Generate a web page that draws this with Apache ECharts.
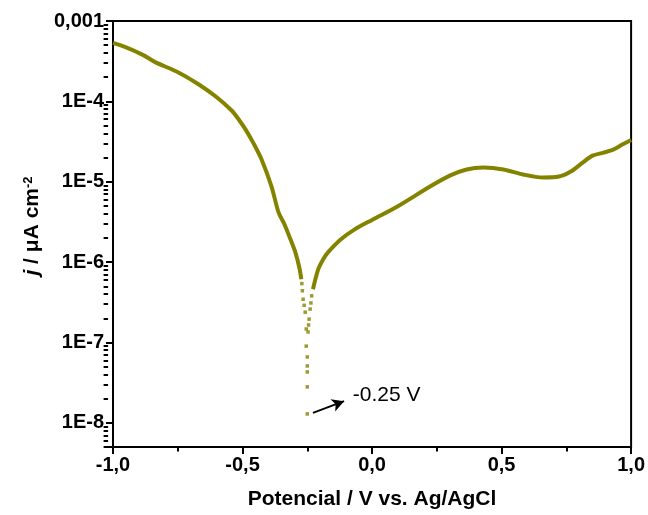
<!DOCTYPE html>
<html>
<head>
<meta charset="utf-8">
<script src="https://cdn.jsdelivr.net/npm/echarts@6/dist/echarts.min.js"></script>
<style>html,body{margin:0;padding:0;background:#fff}#chart{width:648px;height:515px}</style>
</head>
<body>
<div id="chart"></div>
<script>
// Cathodic (left) branch: potential (V vs Ag/AgCl) and current density (A cm-2)
const potentialLeft = [-1.000,-0.954,-0.885,-0.839,-0.744,-0.667,-0.602,-0.541,-0.514,-0.488,-0.457,-0.426,-0.388,-0.361,-0.338,-0.315,-0.296,-0.281,-0.273];
const currentLeft   = [5.33e-4,4.76e-4,3.79e-4,3.10e-4,2.26e-4,1.61e-4,1.14e-4,7.64e-5,5.91e-5,4.45e-5,2.98e-5,1.88e-5,8.71e-6,4.15e-6,2.94e-6,1.92e-6,1.32e-6,8.63e-7,6.12e-7];
// Sparse points around the corrosion potential
const potentialDots = [-0.271,-0.269,-0.266,-0.262,-0.258,-0.254,-0.254,-0.250,-0.250,-0.250,-0.250,-0.250,-0.247,-0.245,-0.243,-0.239,-0.236,-0.233];
const currentDots   = [5.4e-7,4.4e-7,3.45e-7,2.9e-7,2.38e-7,1.47e-7,9.0e-8,6.6e-8,5.1e-8,4.3e-8,2.8e-8,1.29e-8,1.35e-7,1.65e-7,1.95e-7,2.6e-7,3.1e-7,3.8e-7];
// Anodic (right) branch
const potentialRight = [-0.228,-0.208,-0.189,-0.170,-0.120,-0.067,0.000,0.098,0.224,0.300,0.365,0.430,0.507,0.583,0.660,0.721,0.767,0.813,0.851,0.893,0.931,0.966,1.000];
const currentRight   = [4.6e-7,8.1e-7,1.08e-6,1.32e-6,1.92e-6,2.55e-6,3.35e-6,4.92e-6,8.71e-6,1.19e-5,1.42e-5,1.50e-5,1.42e-5,1.23e-5,1.13e-5,1.16e-5,1.34e-5,1.73e-5,2.11e-5,2.30e-5,2.51e-5,2.90e-5,3.3e-5];
// Tick labels
const xTickValues = [-1, -0.5, 0, 0.5, 1];
const xTickLabels = ['-1,0', '-0,5', '0,0', '0,5', '1,0'];
const yTickExponents = [-8, -7, -6, -5, -4, -3];
const yTickLabels = ['1E-8', '1E-7', '1E-6', '1E-5', '1E-4', '0,001'];
// Annotation
const ecorrLabel = '-0.25 V';

const FONT = 'Arial, "Liberation Sans", sans-serif';
const COLOR = '#838300';
const zip = (a, b) => a.map((v, i) => [v, b[i]]);

const GRID = { left: 113, right: 12, top: 21, bottom: 67 };
const CHART_W = 648;
const yMin = 5e-9, yMax = 1e-3;
const minorVals = [];
for (let e = -9; e <= -4; e++) {
  for (let k = 2; k <= 9; k++) {
    const v = k * Math.pow(10, e);
    if (v >= yMin && v <= yMax) minorVals.push(Math.log10(v));
  }
}

const chart = echarts.init(document.getElementById('chart'));
chart.setOption({
  animation: false,
  backgroundColor: '#fff',
  grid: Object.assign({ show: true, borderColor: '#000', borderWidth: 2, backgroundColor: 'transparent' }, GRID),
  xAxis: {
    type: 'value', min: -1, max: 1, interval: 0.5,
    axisLine: { onZero: false, lineStyle: { color: '#000', width: 2 } },
    axisTick: { inside: false, length: 7, lineStyle: { color: '#000', width: 2 } },
    minorTick: { show: true, splitNumber: 2, length: 4.5, lineStyle: { color: '#000', width: 2 } },
    splitLine: { show: false },
    axisLabel: {
      margin: 8, color: '#000', fontSize: 20, fontWeight: 'bold', fontFamily: FONT,
      formatter: v => { const i = xTickValues.findIndex(t => Math.abs(t - v) < 1e-9); return i >= 0 ? xTickLabels[i] : ''; }
    },
    name: 'Potencial / V vs. Ag/AgCl', nameLocation: 'middle', nameGap: 42,
    nameTextStyle: { color: '#000', fontSize: 21, fontWeight: 'bold', fontFamily: FONT }
  },
  yAxis: [{
    type: 'log', logBase: 10, min: yMin, max: yMax, position: 'left',
    axisLine: { onZero: false, lineStyle: { color: '#000', width: 2 } },
    axisTick: { inside: false, length: 7, lineStyle: { color: '#000', width: 2 } },
    splitLine: { show: false },
    axisLabel: {
      margin: 9, color: '#000', fontSize: 20, fontWeight: 'bold', fontFamily: FONT, showMinLabel: true,
      formatter: v => { const e = Math.round(Math.log10(v)); const i = yTickExponents.indexOf(e); return (i >= 0 && Math.abs(Math.log10(v) - e) < 1e-6) ? yTickLabels[i] : ''; }
    },
    name: '{i|j} / μA cm{sup|-2}', nameLocation: 'middle', nameGap: 70,
    nameTextStyle: {
      color: '#000', fontSize: 21, fontWeight: 'bold', fontFamily: FONT, padding: [0, 0, 0, 16],
      rich: {
        i: { fontStyle: 'italic', fontSize: 21, fontWeight: 'bold', fontFamily: FONT, color: '#000' },
        sup: { fontSize: 13, fontWeight: 'bold', fontFamily: FONT, color: '#000', verticalAlign: 'top' }
      }
    }
  }, {
    // minor log ticks: placed on the right slot, shifted onto the left edge
    type: 'value', min: Math.log10(yMin), max: Math.log10(yMax), position: 'right',
    offset: -(CHART_W - GRID.left - GRID.right),
    axisLine: { show: false, onZero: false },
    axisTick: { show: true, inside: true, length: 4.5, customValues: minorVals, lineStyle: { color: '#000', width: 2 } },
    axisLabel: { show: false },
    splitLine: { show: false }
  }],
  series: [{
    type: 'line', yAxisIndex: 0, data: zip(potentialLeft, currentLeft),
    showSymbol: false, smooth: 0.3,
    lineStyle: { color: COLOR, width: 4 }
  }, {
    type: 'line', yAxisIndex: 0, data: zip(potentialRight, currentRight),
    showSymbol: false, smooth: 0.3,
    lineStyle: { color: COLOR, width: 4 }
  }, {
    type: 'scatter', yAxisIndex: 0, data: zip(potentialDots, currentDots),
    symbol: 'rect', symbolSize: 3.5, itemStyle: { color: COLOR },
    markLine: {
      silent: true, symbol: ['none', 'arrow'], symbolSize: [10, 12],
      lineStyle: { color: '#000', width: 2, type: 'solid' }, label: { show: false },
      data: [[{ coord: [-0.228, 1.33e-8] }, { coord: [-0.108, 1.86e-8] }]]
    },
    markPoint: {
      silent: true, symbol: 'circle', symbolSize: 1, itemStyle: { color: 'transparent' },
      label: { show: true, position: 'inside', formatter: ecorrLabel, color: '#000', fontSize: 21, fontFamily: FONT },
      data: [{ coord: [0.056, 2.22e-8] }]
    }
  }]
});
</script>
</body>
</html>
